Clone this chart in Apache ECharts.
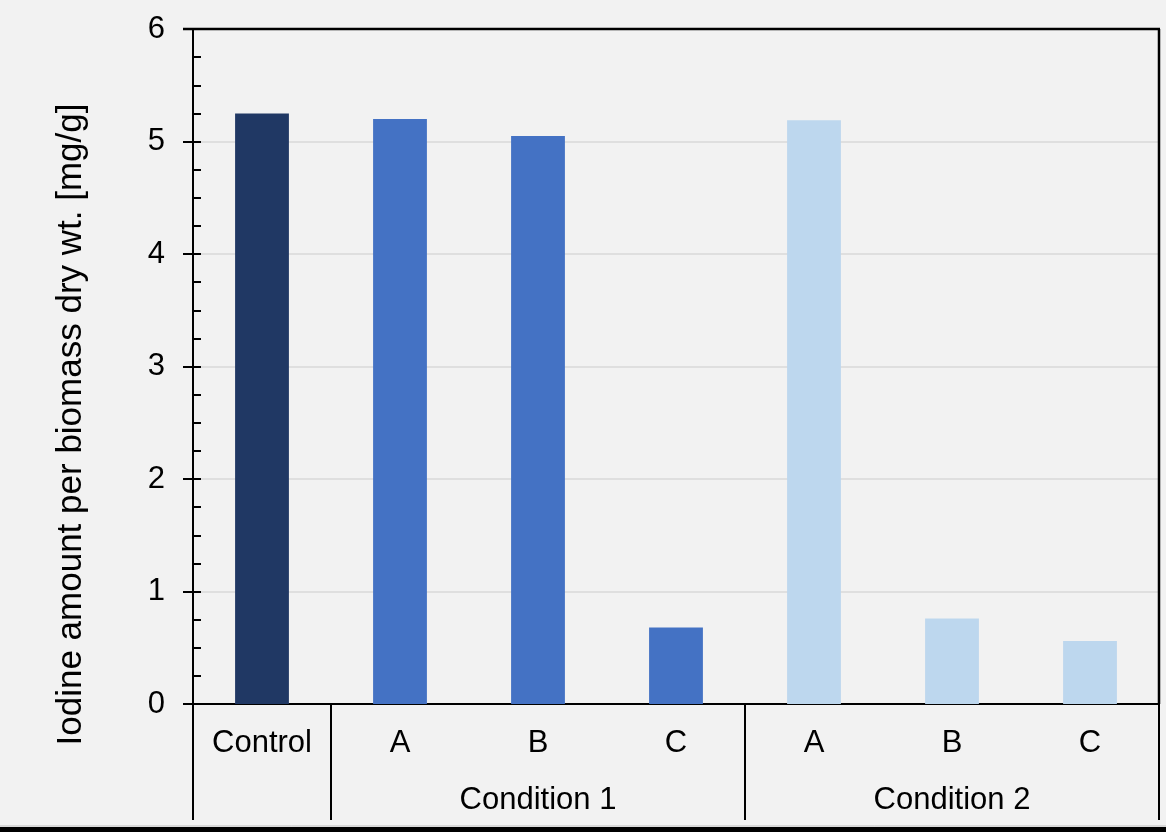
<!DOCTYPE html>
<html>
<head>
<meta charset="utf-8">
<script src="https://cdn.jsdelivr.net/npm/echarts@6/dist/echarts.min.js"></script>
<style>
html,body{margin:0;padding:0;background:#f2f2f2;}
#chart{width:1166px;height:832px;}
</style>
</head>
<body>
<div id="chart"></div>
<script>
var categories = ['Control', 'A', 'B', 'C', 'A', 'B', 'C'];
var groupLabels = ['', '', 'Condition 1', '', '', 'Condition 2', ''];
var values = [5.25, 5.2, 5.05, 0.68, 5.19, 0.76, 0.56];
var barColors = ['#203864', '#4472c4', '#4472c4', '#4472c4', '#bdd7ee', '#bdd7ee', '#bdd7ee'];
var yTitle = 'Iodine amount per biomass dry wt. [mg/g]';
var groupBoundaries = [0, 1, 4, 7];

var FONT = 'Liberation Sans, Arial, sans-serif';
var chart = echarts.init(document.getElementById('chart'));

var option = {
  backgroundColor: '#f2f2f2',
  animation: false,
  grid: {
    left: 193, right: 7, top: 29, bottom: 128,
    show: false
  },
  xAxis: [{
    type: 'category',
    data: categories,
    position: 'bottom',
    axisLine: { show: true, lineStyle: { color: '#000', width: 2 } },
    axisTick: { show: false },
    axisLabel: { interval: 0, color: '#000', fontFamily: FONT, fontSize: 31, lineHeight: 32, margin: 23 }
  }, {
    type: 'category',
    data: groupLabels,
    position: 'bottom',
    offset: 57,
    axisLine: { show: false },
    axisTick: { show: false },
    axisLabel: { interval: 0, color: '#000', fontFamily: FONT, fontSize: 31, lineHeight: 32, margin: 23 }
  }],
  yAxis: [{
    type: 'value',
    min: 0, max: 6, interval: 1,
    position: 'left',
    axisLine: { show: true, lineStyle: { color: '#000', width: 2 } },
    axisTick: { show: true, length: 10, lineStyle: { color: '#000', width: 2 } },
    axisLabel: { color: '#000', fontFamily: FONT, fontSize: 31, margin: 28 },
    splitLine: { show: true, lineStyle: { color: '#d9d9d9', width: 1.5 } }
  }, {
    type: 'value',
    min: 0, max: 6, interval: 0.25,
    position: 'left',
    axisLine: { show: true, lineStyle: { color: '#000', width: 2 } },
    axisTick: { show: true, inside: true, length: 8, lineStyle: { color: '#000', width: 2 } },
    axisLabel: { show: false },
    splitLine: { show: false }
  }],
  series: [{
    type: 'bar',
    xAxisIndex: 0,
    yAxisIndex: 0,
    barWidth: '39%',
    data: values.map(function (v, i) {
      return { value: v, itemStyle: { color: barColors[i] } };
    }),
    z: 1
  }]
};
chart.setOption(option);

// frame and separators, positioned through the chart's scales
var c0 = chart.convertToPixel({ xAxisIndex: 0 }, 0);
var c1 = chart.convertToPixel({ xAxisIndex: 0 }, 1);
var band = c1 - c0;
var xLeft = c0 - band / 2;
var xRight = xLeft + categories.length * band;
var yZero = chart.convertToPixel({ yAxisIndex: 0 }, 0);
var yTop = chart.convertToPixel({ yAxisIndex: 0 }, 6);
var graphics = groupBoundaries.map(function (b) {
  var x = xLeft + b * band;
  return {
    type: 'line',
    shape: { x1: x, y1: yZero, x2: x, y2: 820 },
    style: { stroke: '#000', lineWidth: 2 },
    z: 100
  };
});
graphics.push({
  type: 'line',
  shape: { x1: xLeft - 10, y1: yTop, x2: xRight + 1, y2: yTop },
  style: { stroke: '#000', lineWidth: 2.5 },
  z: 100
});
graphics.push({
  type: 'line',
  shape: { x1: xRight, y1: yTop, x2: xRight, y2: yZero },
  style: { stroke: '#000', lineWidth: 2.5 },
  z: 100
});
graphics.push({
  type: 'line',
  shape: { x1: 0, y1: 826, x2: 1166, y2: 826 },
  style: { stroke: '#bfbfbf', lineWidth: 1 },
  z: 100
});
graphics.push({
  type: 'rect',
  shape: { x: 0, y: 827, width: 1166, height: 5 },
  style: { fill: '#000' },
  z: 100
});
graphics.push({
  type: 'text',
  x: 71,
  y: (yTop + 820) / 2,
  rotation: Math.PI / 2,
  style: {
    text: yTitle,
    fill: '#000',
    font: '35px ' + FONT,
    textAlign: 'center',
    textVerticalAlign: 'middle'
  },
  z: 100
});
chart.setOption({ graphic: graphics });
</script>
</body>
</html>
